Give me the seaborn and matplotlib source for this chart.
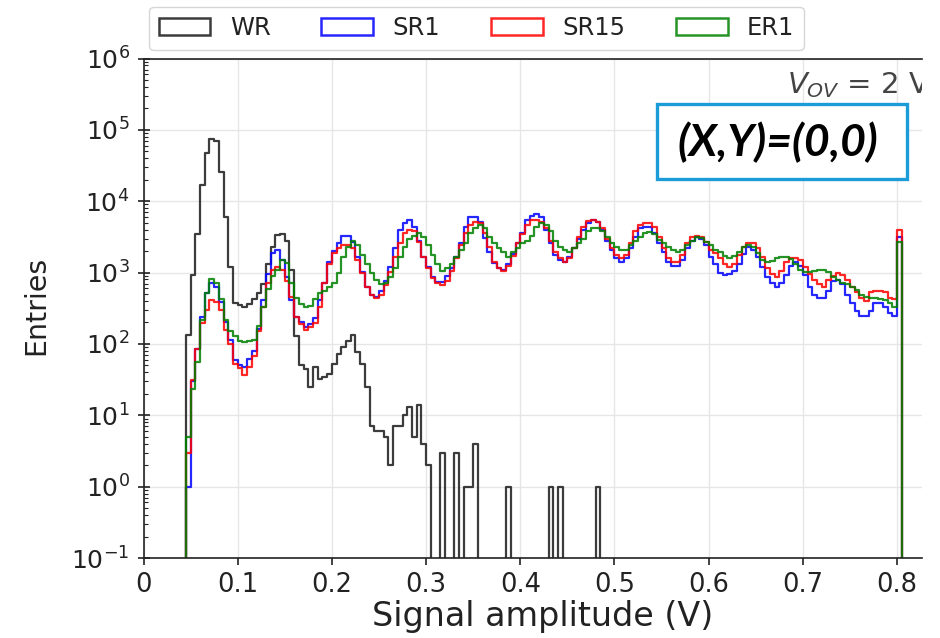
import numpy as np
import pandas as pd
import matplotlib
matplotlib.use("Agg")
import matplotlib.pyplot as plt
import seaborn as sns
from matplotlib.patches import Patch, Rectangle

# ---------------- data (bin counts, bins of 0.005 V starting at 0.045 V) -------------
bin_start = 0.045
bin_width = 0.005

wr = [133, 920, 3500, 17000, 48000, 75000, 70000, 26000, 6000, 1200,
      380, 350, 330, 360, 420, 520, 700, 1300, 2300, 3400,
      3500, 2800, 1100, 130, 50, 45, 25, 48, 32, 34,
      38, 53, 72, 90, 110, 135, 78, 53, 25, 7,
      6, 6, 5, 2, 7, 7, 10, 13, 5, 14,
      4, 2, 0, 0, 3, 0, 0, 3, 0, 1,
      1, 4, 0, 0, 0, 0, 0, 0, 1, 0,
      0, 0, 0, 0, 0, 0, 0, 1, 0, 1,
      0, 0, 0, 0, 0, 0, 0, 1, 0, 0,
      0, 0, 0, 0, 0, 0, 0, 0, 0, 0,
      0, 0, 0, 0, 0, 0, 0, 0, 0, 0,
      0, 0, 0, 0, 0, 0, 0, 0, 0, 0,
      0, 0, 0, 0, 0, 0, 0, 0, 0, 0,
      0, 0, 0, 0, 0, 0, 0, 0, 0, 0,
      0, 0, 0, 0, 0, 0, 0, 0, 0, 0,
      0, 0]

sr1 = [1, 30, 85, 240, 510, 710, 630, 390, 205, 112,
       59, 50, 47, 62, 80, 160, 410, 970, 1870, 2070,
       1500, 870, 410, 240, 200, 175, 190, 230, 410, 720,
       1400, 2000, 2600, 3300, 3300, 2700, 1650, 1020, 630, 480,
       455, 560, 770, 1200, 2200, 4000, 4900, 5400, 4400, 2800,
       1650, 1200, 880, 740, 740, 900, 1150, 1650, 2570, 4400,
       6000, 6000, 5100, 3100, 1950, 1350, 1150, 1100, 1300, 1800,
       2600, 3600, 5400, 6300, 6700, 6000, 4000, 2570, 1780, 1500,
       1400, 1650, 2200, 2950, 4000, 4900, 5400, 5100, 4000, 2800,
       2100, 1600, 1400, 1600, 2200, 3200, 4200, 4400, 4400, 3600,
       2570, 1950, 1400, 1250, 1250, 1500, 2200, 2800, 3200, 3000,
       2400, 1650, 1300, 1000, 910, 950, 1050, 1300, 1850, 2300,
       2100, 1650, 1200, 880, 710, 630, 710, 910, 1250, 1400,
       1250, 910, 630, 490, 440, 440, 560, 750, 790, 700,
       490, 370, 290, 250, 250, 290, 370, 380, 330, 270,
       250, 3200]

sr15 = [3, 31, 85, 195, 300, 410, 390, 300, 155, 100,
        52, 46, 37, 48, 68, 150, 330, 710, 1080, 1200,
        1080, 770, 460, 240, 190, 155, 170, 195, 330, 710,
        1300, 1870, 2200, 2400, 2400, 2200, 1500, 980, 630, 490,
        440, 490, 660, 1020, 1650, 2570, 3550, 4000, 3800, 2700,
        1650, 1150, 850, 710, 680, 770, 1050, 1600, 2400, 3550,
        4600, 5100, 4900, 3550, 2300, 1400, 1150, 1050, 1250, 1700,
        2570, 3500, 4700, 5400, 5400, 5100, 4200, 2800, 1950, 1600,
        1400, 1600, 2200, 3200, 4400, 5300, 5400, 5100, 4200, 2950,
        2200, 1780, 1600, 1780, 2570, 3800, 4600, 4900, 4900, 4400,
        3200, 2200, 1600, 1400, 1400, 1780, 2570, 3200, 3300, 3200,
        2700, 2100, 1900, 1600, 1300, 1200, 1300, 1780, 2300, 2570,
        2570, 2200, 1650, 1150, 950, 880, 1050, 1400, 1600, 1600,
        1500, 1200, 950, 780, 700, 630, 780, 900, 980, 920,
        780, 620, 530, 440, 400, 530, 560, 560, 530, 440,
        420, 3950]

er1 = [5, 23, 55, 215, 510, 800, 710, 420, 215, 150,
       130, 110, 105, 110, 115, 180, 330, 580, 900, 1100,
       1500, 1350, 710, 440, 360, 330, 340, 420, 510, 560,
       620, 720, 1000, 1650, 2300, 2800, 2400, 1780, 1300, 1000,
       780, 700, 710, 880, 1150, 1650, 2300, 2950, 3300, 3550,
       3200, 2400, 1780, 1300, 1050, 1150, 1300, 1650, 2100, 2570,
       3550, 4200, 4600, 4200, 3200, 2570, 2200, 1950, 1650, 1950,
       2200, 2570, 2800, 3300, 4400, 4900, 4600, 3800, 2800, 2300,
       2100, 1950, 2200, 2570, 2950, 3800, 4200, 4200, 3800, 3200,
       2570, 2300, 2100, 2100, 2400, 2800, 3200, 3600, 3700, 3450,
       2900, 2570, 2300, 2050, 1950, 2100, 2400, 2800, 3200, 3100,
       2700, 2400, 2100, 1950, 1700, 1600, 1700, 1950, 2300, 2400,
       2300, 1900, 1500, 1400, 1450, 1600, 1650, 1650, 1550, 1300,
       1100, 1020, 1020, 1050, 1070, 1070, 1020, 860, 780, 710,
       700, 620, 570, 490, 460, 440, 440, 430, 410, 380,
       330, 2700]

series_names = ["WR", "SR1", "SR15", "ER1"]
series_values = [wr, sr1, sr15, er1]
series_colors = ["#1a1a1a", "#0000ff", "#ff0000", "#008000"]

x_ticks = [0, 0.1, 0.2, 0.3, 0.4, 0.5, 0.6, 0.7, 0.8]
x_tick_labels = ["0", "0.1", "0.2", "0.3", "0.4", "0.5", "0.6", "0.7", "0.8"]
y_range = (1e-1, 1e6)
x_range = (0.0, 0.826)

# ---------------- style -------------
sns.set_theme(style="whitegrid", rc={
    "axes.edgecolor": "#222222",
    "axes.linewidth": 1.2,
    "grid.color": "#e6e6e6",
    "grid.linewidth": 1.0,
    "xtick.bottom": True,
    "ytick.left": True,
    "xtick.color": "#222222",
    "ytick.color": "#222222",
    "text.color": "#222222",
    "axes.labelcolor": "#222222",
})
plt.rcParams["font.family"] = ["DejaVu Sans"]

W, H = 940, 638
fig = plt.figure(figsize=(W / 100, H / 100), dpi=100)
ax_left, ax_right, ax_top, ax_bottom = 143.5, 921.5, 58.5, 558.0
ax_w, ax_h = ax_right - ax_left, ax_bottom - ax_top
ax = fig.add_axes([ax_left / W, 1 - ax_bottom / H, ax_w / W, ax_h / H])

n_bins = len(wr)
edges = bin_start + bin_width * np.arange(-1, n_bins + 2)
centers = 0.5 * (edges[:-1] + edges[1:])

for name, vals, col in zip(series_names, series_values, series_colors):
    padded = np.concatenate([[0.0], np.asarray(vals, dtype=float), [0.0]])
    df = pd.DataFrame({"amp": centers, "w": padded})
    sns.histplot(data=df, x="amp", weights="w", bins=[float(e) for e in edges],
                 element="step", fill=False, color=col, linewidth=1.6,
                 alpha=0.85, ax=ax, legend=False)

ax.set_yscale("log")
ax.set_ylim(*y_range)
ax.set_xlim(*x_range)
ax.set_xticks(x_ticks)
ax.set_xticklabels(x_tick_labels)
ax.grid(True, which="major", color="#e6e6e6", linewidth=1.0)
ax.grid(False, which="minor")
ax.spines["right"].set_visible(False)
ax.tick_params(axis="x", which="major", direction="out", length=5, width=1.2,
               labelsize=18.5, pad=5)
ax.tick_params(axis="y", which="major", direction="inout", length=8, width=1.2,
               labelsize=18, pad=6)
ax.tick_params(axis="y", which="minor", direction="in", length=3, width=0.8,
               left=True)
ax.set_xlabel("Signal amplitude (V)", fontsize=24)
ax.set_ylabel("Entries", fontsize=20.5)
ax.xaxis.set_label_coords((543 - ax_left) / ax_w, -(626 - ax_bottom) / ax_h)
ax.xaxis.label.set_va("baseline")
ax.yaxis.set_label_coords(-(ax_left - 50) / ax_w, (ax_bottom - 305) / ax_h)

ax.text((787 - ax_left) / ax_w, (ax_bottom - 93) / ax_h,
        r"$V_{OV}$ = 2 V", transform=ax.transAxes, fontsize=21,
        color="#444444", ha="left", va="baseline", clip_on=True)

handles = [Patch(facecolor="none", edgecolor=c, linewidth=1.8, alpha=0.85)
           for c in series_colors]
leg = fig.legend(handles, series_names, loc="lower left",
                 bbox_to_anchor=(149 / W, 1 - 50 / H), ncol=4, fontsize=17.5,
                 handlelength=2.12, handletextpad=0.8, columnspacing=2.1,
                 frameon=True, borderaxespad=0.0, fancybox=True)
leg.get_frame().set_edgecolor("#cccccc")
leg.get_frame().set_linewidth(1.0)

box = Rectangle((657 / W, 1 - 179 / H), 250 / W, 75 / H,
                transform=fig.transFigure, facecolor="white",
                edgecolor="#1b9bd7", linewidth=2.4, zorder=10)
fig.add_artist(box)
fig.text(778 / W, 1 - 142 / H, "(X,Y)=(0,0)", ha="center", va="center",
         fontsize=32, fontweight="bold", style="italic", color="black",
         family=["Liberation Sans Narrow", "Lato", "DejaVu Sans"], zorder=11)

fig.savefig("out.png", dpi=100)
